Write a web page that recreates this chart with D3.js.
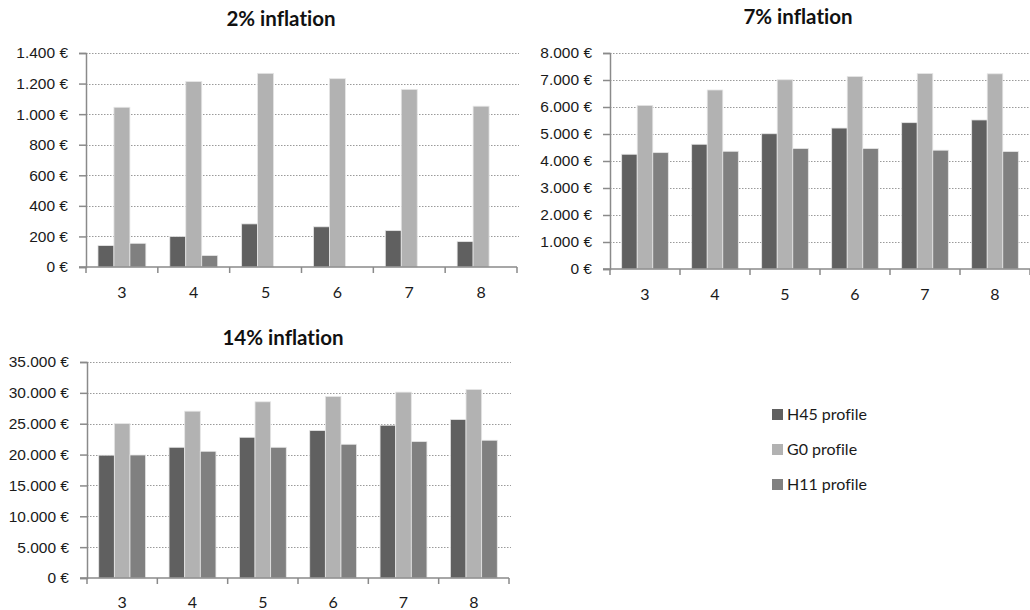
<!DOCTYPE html>
<html lang="en">
  <head>
    <meta charset="utf-8">
    <title>Inflation profiles</title>
    <script src="https://d3js.org/d3.v7.min.js"></script>
    <style>
      body { margin: 0; background: #fff; }
      svg { display: block; font-family: Lato, "Open Sans", sans-serif; font-variant-ligatures: none; }
      .title { font-weight: bold; font-size: 20.5px; fill: #111; }
      .tick text { font-size: 15.5px; fill: #1a1a1a; }
      .legend text { font-size: 16px; fill: #1a1a1a; }
    </style>
  </head>
  <body>
    <svg id="chart" width="1030" height="610"></svg>
    <script>
      var categories = ["3", "4", "5", "6", "7", "8"];
      var series = ["H45 profile", "G0 profile", "H11 profile"];
      var colors = ["#606060", "#b2b2b2", "#808080"];

      // 2% inflation
      var h45_2 = [140, 200, 282, 263, 238, 166];
      var g0_2 = [1045, 1213, 1267, 1232, 1162, 1052];
      var h11_2 = [155, 75, 0, 0, 0, 0];

      // 7% inflation
      var h45_7 = [4250, 4620, 5010, 5220, 5420, 5520];
      var g0_7 = [6060, 6630, 7010, 7130, 7240, 7230];
      var h11_7 = [4310, 4360, 4460, 4460, 4400, 4350];

      // 14% inflation
      var h45_14 = [19900, 21180, 22800, 23890, 24750, 25680];
      var g0_14 = [25020, 27030, 28550, 29410, 30120, 30550];
      var h11_14 = [19930, 20530, 21180, 21670, 22100, 22320];

      var yTicks2 = [0, 200, 400, 600, 800, 1000, 1200, 1400];
      var yTicks7 = [0, 1000, 2000, 3000, 4000, 5000, 6000, 7000, 8000];
      var yTicks14 = [0, 5000, 10000, 15000, 20000, 25000, 30000, 35000];

      var svg = d3.select("#chart");
      var euro = d3.formatLocale({decimal: ",", thousands: ".", grouping: [3], currency: ["", " €"]}).format("$,.0f");

      function drawChart(opt) {
        var g = svg.append("g");
        var x = d3.scaleBand().domain(categories).range([opt.left, opt.right]);
        // Excel style: gap width 150% of bar width
        var bw = x.bandwidth();
        var barW = bw / 4.5;
        var y = d3.scaleLinear().domain([0, d3.max(opt.ticks)]).range([opt.bottom, opt.top]);

        // gridlines
        g.selectAll(".grid").data(opt.ticks.slice(1)).enter().append("line")
          .attr("x1", opt.left).attr("x2", opt.right + 2)
          .attr("y1", function(d) { return Math.round(y(d)) + 0.5; })
          .attr("y2", function(d) { return Math.round(y(d)) + 0.5; })
          .attr("stroke", "#9a9a9a").attr("stroke-width", 1).attr("stroke-dasharray", "1.5,1.5");

        // bars
        var data = [];
        categories.forEach(function(c, i) {
          opt.values.forEach(function(s, j) {
            data.push({cat: c, k: j, v: s[i]});
          });
        });
        g.selectAll(".bar").data(data.filter(function(d) { return d.v > 0; })).enter().append("rect")
          .attr("x", function(d) { return x(d.cat) + barW * 0.75 + d.k * barW; })
          .attr("y", function(d) { return y(d.v); })
          .attr("width", barW)
          .attr("height", function(d) { return opt.bottom - y(d.v); })
          .attr("fill", function(d) { return colors[d.k]; })
          .attr("stroke", "#e6e6e6").attr("stroke-width", 0.8);

        // y axis
        var yAxis = g.append("g").attr("transform", "translate(" + opt.left + ",0)")
          .call(d3.axisLeft(y).tickValues(opt.ticks).tickSize(7).tickPadding(11).tickFormat(euro));
        yAxis.select(".domain").attr("stroke", "#8a8a8a").attr("stroke-width", 1.5);
        yAxis.selectAll(".tick line").attr("stroke", "#8a8a8a").attr("stroke-width", 1.5);
        yAxis.selectAll(".tick text").attr("font-family", null).attr("font-size", null);

        // x axis
        var xAxis = g.append("g").attr("transform", "translate(0," + opt.bottom + ")");
        xAxis.append("line").attr("x1", opt.left - 7).attr("x2", opt.right).attr("y1", 0).attr("y2", 0)
          .attr("stroke", "#8a8a8a").attr("stroke-width", 1.5);
        var bounds = categories.map(function(c) { return x(c); }).concat([opt.right]);
        xAxis.selectAll(".xt").data(bounds).enter().append("line")
          .attr("x1", function(d) { return d; }).attr("x2", function(d) { return d; })
          .attr("y1", 0).attr("y2", 6)
          .attr("stroke", "#8a8a8a").attr("stroke-width", 1.5);
        xAxis.selectAll(".xl").data(categories).enter().append("text")
          .attr("x", function(d) { return x(d) + bw / 2; })
          .attr("y", opt.labelY)
          .attr("text-anchor", "middle")
          .style("font-size", "16px").style("fill", "#1a1a1a")
          .text(function(d) { return d; });

        g.append("text").attr("class", "title")
          .attr("x", opt.titleX).attr("y", opt.titleY)
          .attr("text-anchor", "middle").text(opt.title);
      }

      drawChart({title: "2% inflation", titleX: 281, titleY: 26, left: 86, right: 517, top: 53, bottom: 267, labelY: 31,
        ticks: yTicks2, values: [h45_2, g0_2, h11_2]});
      drawChart({title: "7% inflation", titleX: 798, titleY: 24, left: 610, right: 1030, top: 53, bottom: 269, labelY: 31,
        ticks: yTicks7, values: [h45_7, g0_7, h11_7]});
      drawChart({title: "14% inflation", titleX: 283, titleY: 345, left: 87, right: 509, top: 362, bottom: 578, labelY: 30,
        ticks: yTicks14, values: [h45_14, g0_14, h11_14]});

      // legend
      var legend = svg.selectAll(".legend").data(series).enter().append("g")
        .attr("class", "legend")
        .attr("transform", function(d, i) { return "translate(772," + (409 + i * 35) + ")"; });
      legend.append("rect").attr("width", 11).attr("height", 11)
        .attr("fill", function(d, i) { return colors[i]; });
      legend.append("text").attr("x", 15).attr("y", 11).text(function(d) { return d; });
    </script>
  </body>
</html>
